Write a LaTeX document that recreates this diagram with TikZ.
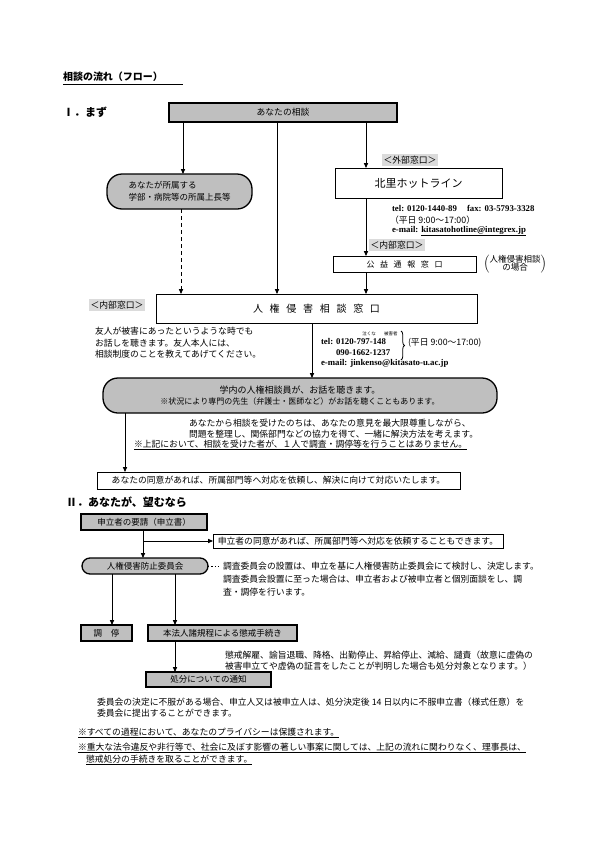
\documentclass[tikz,border=0pt]{standalone}
\usepackage{fontspec}
\setmainfont{Noto Sans CJK JP}
\newfontfamily\lat{Liberation Serif}
\usetikzlibrary{arrows.meta,decorations.pathreplacing}
\definecolor{boxgray}{gray}{0.75}
\definecolor{labgray}{gray}{0.86}
\begin{document}
\begin{tikzpicture}[x=1pt,y=-1pt,
  every node/.style={inner sep=0pt,outer sep=0pt,font=\fontsize{8.8}{11.5}\selectfont},
  conn/.style={line width=0.9pt,-{Triangle[length=5pt,width=4.2pt]}},
  gbox/.style={draw,line width=1.3pt,fill=boxgray},
  wbox/.style={draw,line width=0.9pt,fill=white},
  pill/.style={draw,line width=1.3pt,fill=boxgray,rounded corners=#1},
  lab/.style={fill=labgray,inner xsep=1.5pt,inner ysep=1.5pt},
  txt/.style={anchor=west,align=left}]
\useasboundingbox (0,0) rectangle (595,841);
\fill[white] (0,0) rectangle (595,841);

% headings
\node[txt,font=\bfseries\fontsize{10}{12}\selectfont] (title) at (63,77) {相談の流れ（フロー）};
\draw[line width=0.8pt] (63,84) -- (183,84);
\node[txt,font=\bfseries\fontsize{11}{13}\selectfont] (sec1) at (63,112) {Ⅰ．まず};

% section I boxes
\node[gbox,minimum width=228pt,minimum height=19pt] (soudan) at (283,112.5) {あなたの相談};
\node[pill=15pt,minimum width=145pt,minimum height=35pt,align=left,font=\fontsize{8.5}{11.5}\selectfont] (joucho) at (179.5,191.5) {あなたが所属する\\学部・病院等の所属上長等};
\node[lab] (gaibu) at (410,160) {＜外部窓口＞};
\node[wbox,minimum width=167pt,minimum height=30pt,font=\fontsize{11}{13}\selectfont] (hotline) at (418.5,183) {北里ホットライン};
\node[txt] (hinfo1) at (392,208) {\lat\bfseries tel: 0120-1440-89\hspace{10pt}fax: 03-5793-3328};
\node[txt] (hinfo2) at (390,220) {（平日\ 9:00～17:00）};
\node[txt] (hinfo3) at (392,231) {\lat\bfseries e-mail: \underline{kitasatohotline@integrex.jp}};
\node[lab] (naibuA) at (397,245) {＜内部窓口＞};
\node[wbox,minimum width=143pt,minimum height=16pt,font=\fontsize{8}{10}\selectfont] (koueki) at (404.5,264) {公\hspace{5.6pt}益\hspace{5.6pt}通\hspace{5.6pt}報\hspace{5.6pt}窓\hspace{5.6pt}口};
\node (baai) at (515,264) {$\left(\vcenter{\hbox{\fontsize{8.5}{10}\selectfont\begin{tabular}{@{}c@{}}人権侵害相談\\[-2pt]の場合\end{tabular}}}\right)$};

\node[wbox,minimum width=321pt,minimum height=29pt,font=\fontsize{10}{12}\selectfont] (jinken) at (316.5,308.5) {人\hspace{6.7pt}権\hspace{6.7pt}侵\hspace{6.7pt}害\hspace{6.7pt}相\hspace{6.7pt}談\hspace{6.7pt}窓\hspace{6.7pt}口};
\node[lab] (naibuB) at (117,305) {＜内部窓口＞};
\node[txt] (yuujin) at (95,343) {友人が被害にあったというような時でも\\お話しを聴きます。友人本人には、\\相談制度のことを教えてあげてください。};

\node[txt] (tel2) at (321,342) {\lat\bfseries tel: 0120-797-148};
\node[font=\fontsize{4.5}{5}\selectfont] (ruby) at (380,334) {泣くな\hspace{8.5pt}被害者};
\node[txt] (tel3) at (336,353) {\lat\bfseries 090-1662-1237};
\coordinate (braceTop) at (401,331);
\coordinate (braceBot) at (401,360);
\draw[line width=0.8pt,decorate,decoration={brace,amplitude=3.5pt}] (braceTop) -- (braceBot);
\node[txt] (hours2) at (408,343) {(平日 9:00～17:00)};
\node[txt] (mail2) at (321,363) {\lat\bfseries e-mail: jinkenso@kitasato-u.ac.jp};

\node[pill=15pt,minimum width=394pt,minimum height=35pt,align=center,font=\fontsize{9}{11}\selectfont] (gakunai) at (300,395.5) {学内の人権相談員が、お話を聴きます。\\{\fontsize{8}{10}\selectfont ※状況により専門の先生（弁護士・医師など）がお話を聴くこともあります。}};
\node[txt] (nochi) at (189,428.5) {あなたから相談を受けたのちは、あなたの意見を最大限尊重しながら、\\問題を整理し、関係部門などの協力を得て、一緒に解決方法を考えます。};
\node[txt] (chuui) at (134,445) {\underline{※上記において、相談を受けた者が、１人で調査・調停等を行うことはありません。}};
\node[wbox,minimum width=363pt,minimum height=17pt] (doui) at (278.5,480.5) {あなたの同意があれば、所属部門等へ対応を依頼し、解決に向けて対応いたします。};

% connectors section I
\coordinate (cL) at (183,0);
\coordinate (cM) at (277,0);
\coordinate (cR) at (366,0);
\coordinate (cD) at (181,0);
\coordinate (cJ) at (312,0);
\coordinate (cG) at (125,0);
\draw[conn] (soudan.south -| cL) -- (joucho.north -| cL);
\draw[conn] (soudan.south -| cM) -- (jinken.north -| cM);
\draw[conn] (soudan.south -| cR) -- (hotline.north -| cR);
\draw[conn] (hotline.south -| cR) -- (koueki.north -| cR);
\draw[conn] (koueki.south -| cR) -- (jinken.north -| cR);
\draw[conn,dash pattern=on 4pt off 3pt] (joucho.south -| cD) -- (jinken.north -| cD);
\draw[conn] (jinken.south -| cJ) -- (gakunai.north -| cJ);
\draw[conn] (gakunai.south -| cG) -- (doui.north -| cG);

% section II
\node[txt,font=\bfseries\fontsize{11}{13}\selectfont] (sec2) at (66,502) {Ⅱ．あなたが、望むなら};
\node[gbox,minimum width=126pt,minimum height=16pt,font=\fontsize{8.5}{10}\selectfont] (moushi) at (144,522) {申立者の要請（申立書）};
\node[wbox,minimum width=290pt,minimum height=14pt,line width=0.8pt] (doui2) at (358,541) {申立者の同意があれば、所属部門等へ対応を依頼することもできます。};
\node[pill=8pt,minimum width=126pt,minimum height=16pt,font=\fontsize{8.5}{10}\selectfont] (iinkai) at (145,566) {人権侵害防止委員会};
\coordinate (dotEnd) at (221,566);
\node[txt,font=\fontsize{8.8}{12.8}\selectfont] (setchi) at (223,579) {調査委員会の設置は、申立を基に人権侵害防止委員会にて検討し、決定します。\\調査委員会設置に至った場合は、申立者および被申立者と個別面談をし、調\\査・調停を行います。};
\node[gbox,minimum width=51pt,minimum height=16pt,font=\fontsize{8.5}{10}\selectfont] (choutei) at (106.5,633) {調\hspace{9pt}停};
\node[gbox,minimum width=149pt,minimum height=16pt,font=\fontsize{8.5}{10}\selectfont] (chokai) at (222.5,633) {本法人諸規程による懲戒手続き};
\node[txt,font=\fontsize{8.8}{11}\selectfont] (shobun) at (225,660.5) {懲戒解雇、諭旨退職、降格、出勤停止、昇給停止、減給、譴責（故意に虚偽の\\被害申立てや虚偽の証言をしたことが判明した場合も処分対象となります。）};
\node[gbox,minimum width=125pt,minimum height=15pt,font=\fontsize{8.5}{10}\selectfont] (tsuuchi) at (208.5,679.5) {処分についての通知};
\node[txt,font=\fontsize{8.8}{11}\selectfont] (fufuku) at (97,707.5) {委員会の決定に不服がある場合、申立人又は被申立人は、処分決定後 14 日以内に不服申立書（様式任意）を\\委員会に提出することができます。};
\node[txt] (note1) at (78,733) {\underline{※すべての過程において、あなたのプライバシーは保護されます。}};
\node[txt] (note2) at (78,748) {\underline{※重大な法令違反や非行等で、社会に及ぼす影響の著しい事案に関しては、上記の流れに関わりなく、理事長は、}};
\node[txt] (note3) at (86,760) {\underline{懲戒処分の手続きを取ることができます。}};

% connectors section II
\coordinate (c2) at (143,0);
\coordinate (br) at (143,541);
\coordinate (cC1) at (112,0);
\coordinate (cC2) at (175,0);
\draw[conn] (moushi.south -| c2) -- (iinkai.north -| c2);
\draw[conn] (br) -- (doui2.west);
\draw[line width=1pt,dash pattern=on 1.2pt off 2.2pt] (iinkai.east) -- (dotEnd);
\draw[conn] (iinkai.south -| cC1) -- (choutei.north -| cC1);
\draw[conn] (iinkai.south -| cC2) -- (chokai.north -| cC2);
\draw[conn] (chokai.south -| cC2) -- (tsuuchi.north -| cC2);
\end{tikzpicture}
\end{document}
